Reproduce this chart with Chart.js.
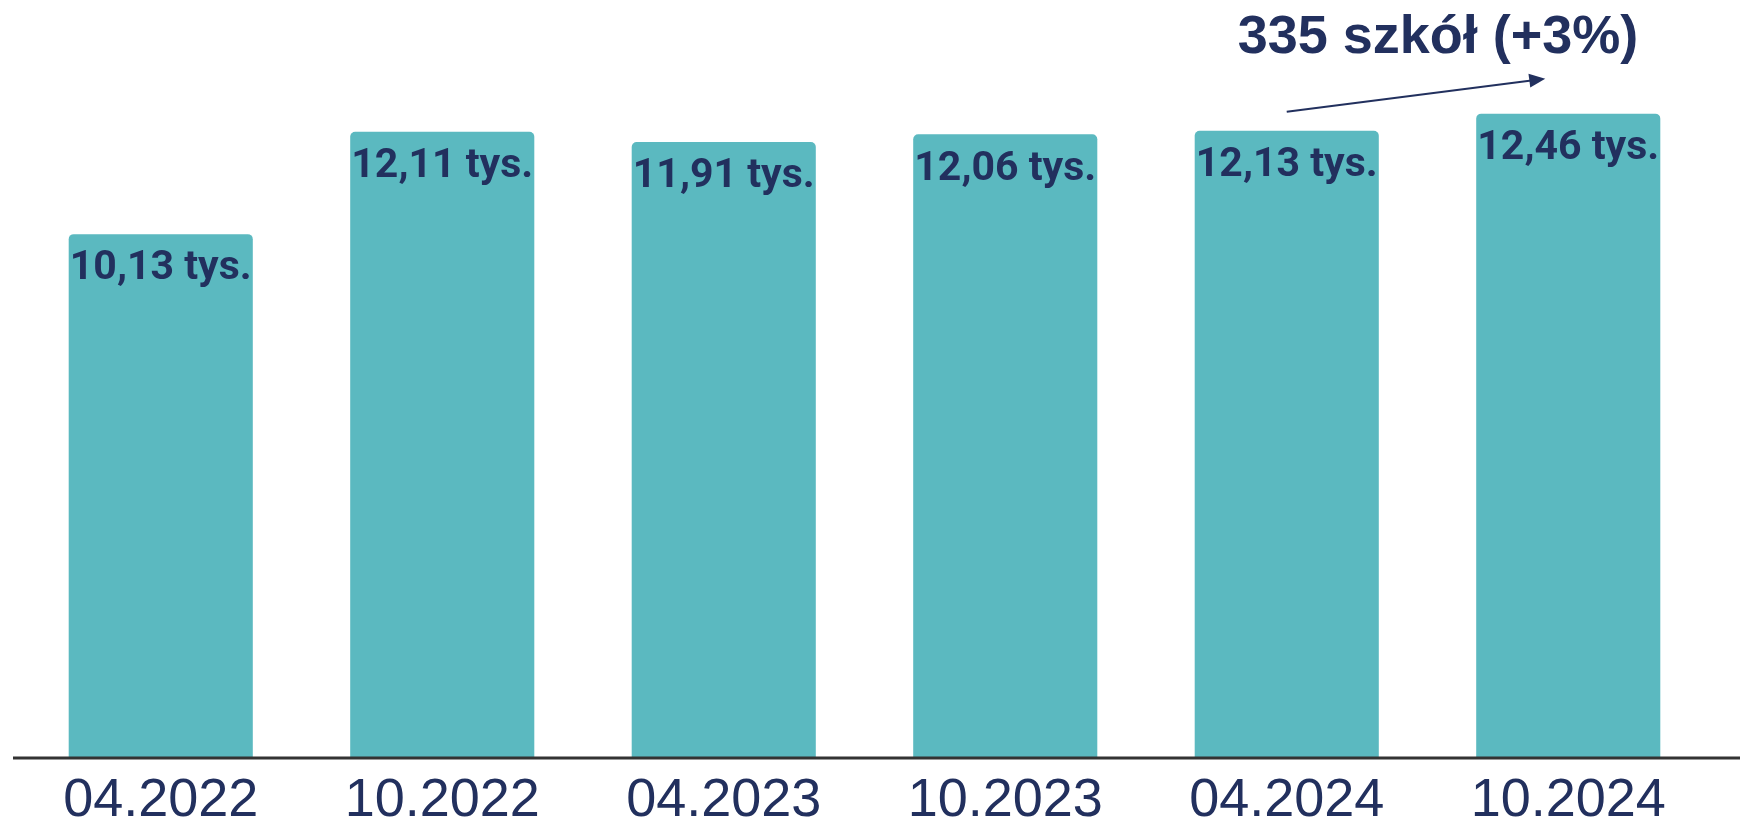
<!DOCTYPE html>
<html>
<head>
<meta charset="utf-8">
<script src="https://cdn.jsdelivr.net/npm/chart.js@4/dist/chart.umd.min.js"></script>
<style>
  html, body { margin: 0; padding: 0; background: #fff; }
  #wrap { width: 1740px; height: 831px; position: relative; }
</style>
</head>
<body>
<div id="wrap"><canvas id="chart"></canvas></div>
<script>
const categories = ["04.2022", "10.2022", "04.2023", "10.2023", "04.2024", "10.2024"];
const schools = [10.13, 12.11, 11.91, 12.06, 12.13, 12.46];
const annotationText = "335 szkół (+3%)";

const navy = "#22305e";
const teal = "#5bb9c0";

function fmt(v) {
    return v.toFixed(2).replace(".", ",") + " tys.";
}

// value labels inside the bars, plus the axis line and the growth arrow
const extras = {
    id: "extras",
    afterDatasetsDraw(chart) {
        const ctx = chart.ctx;
        const bars = chart.getDatasetMeta(0).data;
        const area = chart.chartArea;

        ctx.save();
        ctx.fillStyle = navy;
        ctx.font = "bold 41px Roboto";
        ctx.textAlign = "center";
        ctx.textBaseline = "middle";
        bars.forEach((bar, i) => {
            ctx.fillText(fmt(schools[i]), bar.x, bar.y + 35);
        });

        // bottom axis line, a bit wider than the plot
        ctx.strokeStyle = "#333";
        ctx.lineWidth = 3;
        ctx.beginPath();
        ctx.moveTo(13, area.bottom);
        ctx.lineTo(chart.width, area.bottom);
        ctx.stroke();

        // arrow from bar 5 towards bar 6
        const a = bars[4], b = bars[5];
        const x1 = a.x, y1 = a.y - 19;
        const x2 = b.x - 23, y2 = b.y - 35;
        const ang = Math.atan2(y2 - y1, x2 - x1);
        ctx.strokeStyle = navy;
        ctx.lineWidth = 2;
        ctx.beginPath();
        ctx.moveTo(x1, y1);
        ctx.lineTo(x2 - 12 * Math.cos(ang), y2 - 12 * Math.sin(ang));
        ctx.stroke();
        ctx.fillStyle = navy;
        ctx.beginPath();
        ctx.moveTo(x2, y2);
        ctx.lineTo(x2 - 16 * Math.cos(ang) + 7 * Math.sin(ang), y2 - 16 * Math.sin(ang) - 7 * Math.cos(ang));
        ctx.lineTo(x2 - 16 * Math.cos(ang) - 7 * Math.sin(ang), y2 - 16 * Math.sin(ang) + 7 * Math.cos(ang));
        ctx.closePath();
        ctx.fill();

        ctx.font = "bold 54px 'Liberation Sans', Arial";
        ctx.fillText(annotationText, 1438, 38);
        ctx.restore();
    }
};

new Chart(document.getElementById("chart"), {
    type: "bar",
    data: {
        labels: categories,
        datasets: [{
            data: schools,
            backgroundColor: teal,
            borderRadius: { topLeft: 5, topRight: 5 },
            borderSkipped: "bottom",
            barPercentage: 0.654,
            categoryPercentage: 1
        }]
    },
    options: {
        responsive: true,
        maintainAspectRatio: false,
        animation: false,
        layout: { padding: { left: 20, right: 31, top: 34, bottom: 0 } },
        plugins: {
            legend: { display: false },
            tooltip: { enabled: false }
        },
        scales: {
            x: {
                grid: { display: false },
                border: { display: false },
                afterFit(scale) { scale.height = 73; },
                ticks: {
                    color: navy,
                    padding: 3,
                    font: { family: "'Liberation Sans', Arial", size: 54 }
                }
            },
            y: {
                display: false,
                min: 0,
                max: 14
            }
        }
    },
    plugins: [extras]
});
</script>
</body>
</html>
